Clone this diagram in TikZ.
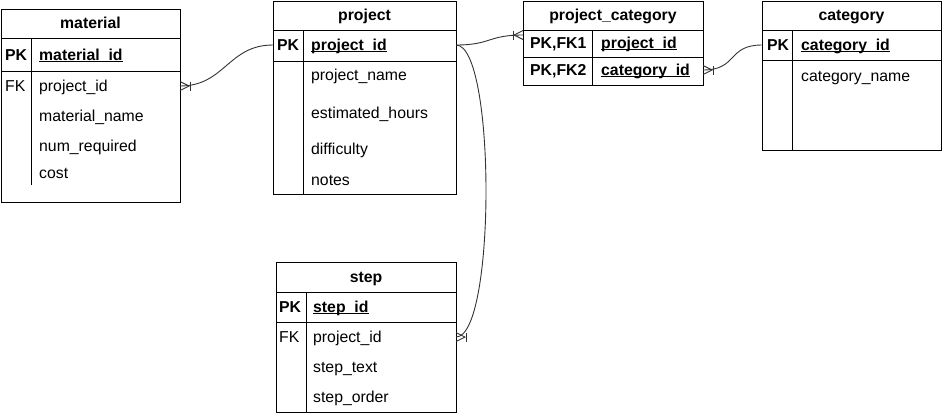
\documentclass[tikz,border=0pt]{standalone}
\usepackage{fontspec}
\setmainfont{Liberation Sans}
\usetikzlibrary{calc}
\newcommand\ulx[1]{\setbox0\hbox{#1}\rlap{\rule[-2pt]{\wd0}{1pt}}\box0}
\newcommand\crowfoot[2]{%
 \draw[rel] ($(#1)+(0,-4.5)$) -- ($(#1)+({#2*9},0)$) -- ($(#1)+(0,4.5)$);
 \draw[rel] ($(#1)+({#2*10},-4.5)$) -- ($(#1)+({#2*10},4.5)$);}
\begin{document}
\begin{tikzpicture}[x=1pt,y=-1pt,
 tbl/.style={draw, line width=1pt, anchor=north west, inner sep=0, outer sep=0},
 txt/.style={anchor=west, inner sep=0, font=\fontsize{15.8}{18}\selectfont, text height=12.6pt, text depth=2.4pt},
 ttl/.style={inner sep=0, font=\bfseries\fontsize{15.8}{18}\selectfont, text height=12.6pt, text depth=2.4pt},
 key/.style={txt, font=\bfseries\fontsize{15.8}{18}\selectfont},
 sep/.style={line width=1pt},
 rel/.style={draw=black!80, line width=0.9pt}]
\useasboundingbox (0,0) rectangle (943,413);

% material
\node[tbl, minimum width=179pt, minimum height=193pt] (material) at (1,9) {};
\node[ttl] (materialT) at (90.5,23.5) {material};
\draw[sep] (1,38) -- (180,38);
\draw[sep] (1,71) -- (180,71);
\draw[sep] (31,38) -- (31,185);
\node[key] (mpk) at (5,55) {PK};
\node[key] (mpkf) at (39,55) {\ulx{material\_id}};
\node[txt] (mfkk) at (5,86) {FK};
\node[txt] (mfk) at (39,86) {project\_id};
\node[txt] (mname) at (39,116) {material\_name};
\node[txt] (mnum) at (39,146) {num\_required};
\node[txt] (mcost) at (39,173) {cost};

% project
\node[tbl, minimum width=183pt, minimum height=193pt] (project) at (273,1) {};
\node[ttl] (projectT) at (364.5,15.5) {project};
\draw[sep] (273,30) -- (456,30);
\draw[sep] (273,61) -- (456,61);
\draw[sep] (303,30) -- (303,194);
\node[key] (ppkk) at (277,45) {PK};
\node[key] (ppk) at (311,45) {\ulx{project\_id}};
\node[txt] (pname) at (311,75) {project\_name};
\node[txt] (phours) at (311,113) {estimated\_hours};
\node[txt] (pdiff) at (311,149) {difficulty};
\node[txt] (pnotes) at (311,180) {notes};

% project_category
\node[tbl, minimum width=180pt, minimum height=84pt] (pcat) at (523,1) {};
\node[ttl] (pcatT) at (613,15.5) {project\_category};
\draw[sep] (523,30) -- (703,30);
\draw[sep] (523,57) -- (703,57);
\draw[sep] (592,30) -- (592,85);
\node[key] (pcr1k) at (530,43) {PK,FK1};
\node[key] (pcr1) at (601,43) {\ulx{project\_id}};
\node[key] (pcr2k) at (530,70) {PK,FK2};
\node[key] (pcr2) at (601,70) {\ulx{category\_id}};

% category
\node[tbl, minimum width=179pt, minimum height=149pt] (category) at (762,1) {};
\node[ttl] (categoryT) at (851.5,15.5) {category};
\draw[sep] (762,30) -- (941,30);
\draw[sep] (762,60) -- (941,60);
\draw[sep] (792,30) -- (792,150);
\node[key] (cpkk) at (767,45) {PK};
\node[key] (cpk) at (801,45) {\ulx{category\_id}};
\node[txt] (cname) at (801,76) {category\_name};

% step
\node[tbl, minimum width=180pt, minimum height=150pt] (step) at (276,262) {};
\node[ttl] (stepT) at (366,277.5) {step};
\draw[sep] (276,292) -- (456,292);
\draw[sep] (276,322) -- (456,322);
\draw[sep] (306,292) -- (306,412);
\node[key] (spkk) at (279,307) {PK};
\node[key] (spk) at (313,307) {\ulx{step\_id}};
\node[txt] (sfkk) at (279,337) {FK};
\node[txt] (sfk) at (313,337) {project\_id};
\node[txt] (stext) at (313,367) {step\_text};
\node[txt] (sorder) at (313,397) {step\_order};

% connector end points
\coordinate (m1) at (material.east |- mfk.west);
\coordinate (p1) at (project.west |- ppk.west);
\coordinate (p2) at (project.east |- ppk.west);
\coordinate (pc1) at ($(pcat.north west)+(0,34)$);
\coordinate (pc2) at (pcat.east |- pcr2.west);
\coordinate (c1) at (category.west |- cpk.west);
\coordinate (s1) at (step.east |- sfk.west);

\draw[rel] (m1) .. controls +(45,0) and +(-45,0) .. (p1);
\draw[rel] (p2) .. controls +(35,0) and +(-35,0) .. (pc1);
\draw[rel] (p2) .. controls +(40,0) and +(40,0) .. (s1);
\draw[rel] (c1) .. controls +(-35,0) and +(35,0) .. (pc2);

\crowfoot{m1}{1}
\crowfoot{pc1}{-1}
\crowfoot{s1}{1}
\crowfoot{pc2}{1}
\end{tikzpicture}
\end{document}
